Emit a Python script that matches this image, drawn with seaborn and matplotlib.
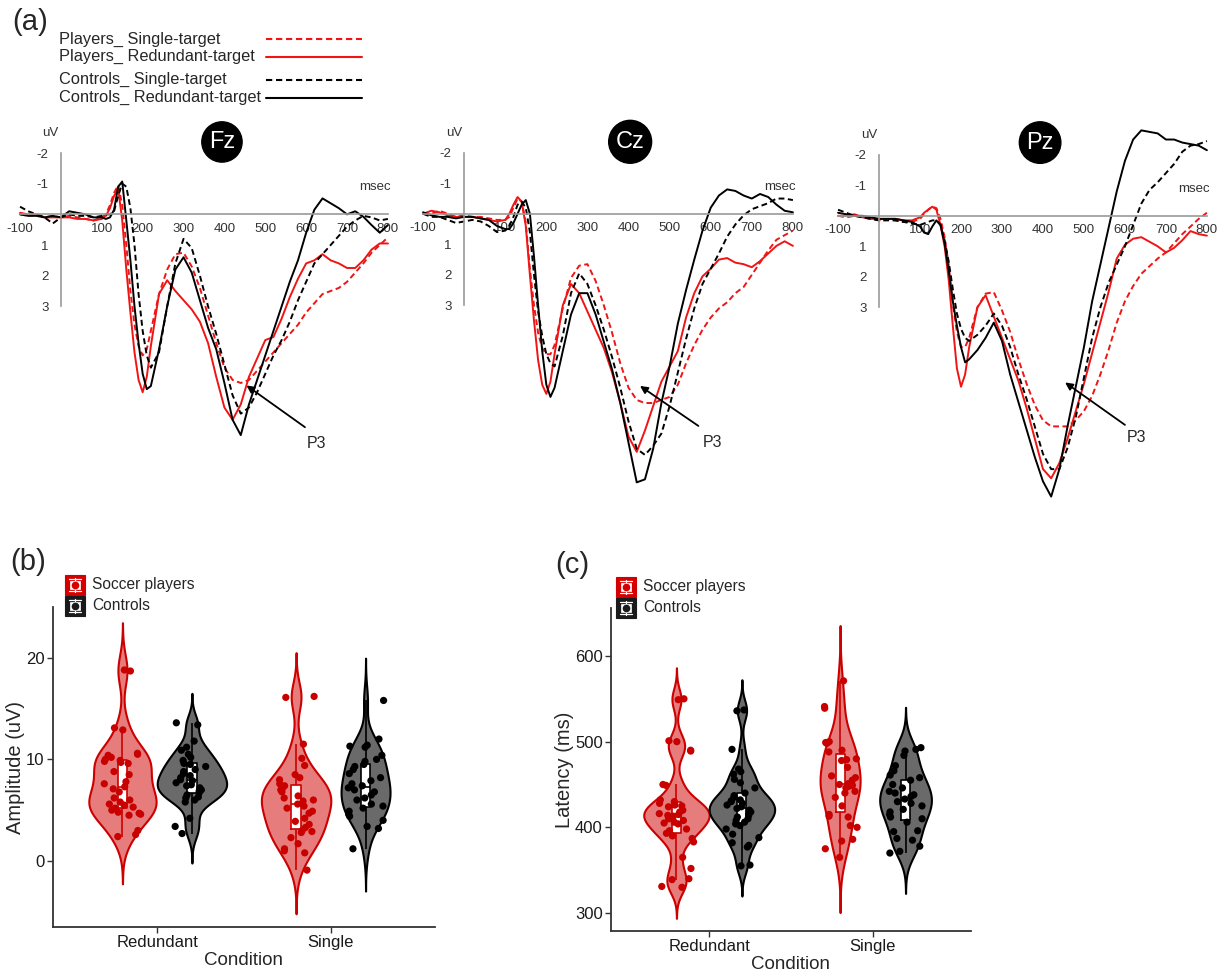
import numpy as np
import pandas as pd
import seaborn as sns
import matplotlib.pyplot as plt
from matplotlib.lines import Line2D
from matplotlib.patches import Rectangle

sns.set_style("white")
plt.rcParams['font.family'] = ['Liberation Sans', 'DejaVu Sans']

# ---------------- ERP waveforms (uV, negative up) ----------------
time_ms = [-100, -80, -60, -40, -20, 0, 20, 40, 60, 80, 100,
           110, 120, 130, 140, 150, 160, 170, 180, 190, 200, 210, 220,
           240, 260, 280, 300, 320, 340, 360, 380, 400, 420, 440, 460, 480, 500,
           520, 540, 560, 580, 600, 620, 640, 660, 680, 700, 720, 740, 760, 780, 800]

fz_players_single = [0.0, 0.05, 0.0, 0.1, 0.05, 0.1, 0.05, 0.1, 0.15, 0.2, 0.1,
                     0.0, -0.3, -0.7, -0.95, -0.3, 1.0, 2.5, 3.6, 4.3, 4.6, 4.4, 3.8,
                     2.6, 1.8, 1.3, 1.25, 1.7, 2.4, 3.3, 4.2, 5.0, 5.4, 5.5, 5.4, 5.1, 4.8,
                     4.5, 4.2, 3.9, 3.6, 3.2, 2.9, 2.6, 2.5, 2.4, 2.2, 1.9, 1.6, 1.25, 1.0, 0.75]
fz_players_redundant = [-0.05, 0.0, 0.0, 0.1, 0.1, 0.1, 0.1, 0.15, 0.15, 0.2, 0.15,
                        0.05, -0.2, -0.6, -0.85, 0.2, 1.8, 3.2, 4.5, 5.4, 5.8, 5.3, 4.3,
                        2.6, 2.15, 2.5, 2.8, 3.1, 3.5, 4.2, 5.3, 6.3, 6.7, 6.2, 5.3, 4.7, 4.1,
                        4.0, 3.4, 2.7, 2.1, 1.6, 1.5, 1.3, 1.5, 1.6, 1.75, 1.75, 1.5, 1.15, 0.95, 0.95]
fz_controls_single = [-0.25, -0.1, 0.0, 0.1, 0.3, 0.1, 0.0, 0.05, 0.05, 0.1, 0.05,
                      0.0, 0.0, -0.1, -0.6, -1.0, -0.9, -0.2, 1.0, 2.6, 3.8, 4.6, 5.0,
                      4.5, 3.0, 1.6, 0.8, 1.1, 2.0, 3.0, 3.9, 4.9, 5.9, 6.5, 6.3, 5.8, 5.2,
                      4.6, 4.1, 3.5, 2.8, 2.2, 1.6, 1.3, 1.0, 0.7, 0.4, 0.2, 0.05, 0.1, 0.2, 0.15]
fz_controls_redundant = [0.0, 0.05, 0.05, 0.1, 0.05, 0.1, -0.1, -0.05, 0.0, 0.1, 0.1,
                         0.15, 0.1, -0.15, -0.9, -1.07, 0.2, 1.5, 3.0, 4.2, 5.2, 5.7, 5.6,
                         4.4, 3.0, 1.8, 1.4, 1.9, 2.8, 3.7, 4.4, 5.5, 6.7, 7.2, 6.2, 5.4, 4.6,
                         3.8, 3.0, 2.2, 1.5, 0.6, -0.15, -0.52, -0.36, -0.2, 0.0, -0.1, 0.08, 0.35, 0.6, 0.35]

cz_players_single = [0.0, 0.0, -0.1, 0.0, 0.1, 0.05, 0.1, 0.1, 0.15, 0.2, 0.2,
                     0.1, -0.2, -0.5, -0.4, 0.3, 1.8, 3.0, 3.9, 4.4, 4.6, 4.6, 4.3,
                     3.1, 2.1, 1.7, 1.65, 2.2, 3.0, 3.9, 4.9, 5.7, 6.1, 6.2, 6.2, 6.1, 6.0,
                     5.6, 4.9, 4.3, 3.8, 3.4, 3.1, 2.9, 2.6, 2.4, 2.0, 1.6, 1.2, 0.85, 0.7, 0.55]
cz_players_redundant = [0.0, -0.1, -0.05, 0.05, 0.1, 0.1, 0.1, 0.15, 0.2, 0.25, 0.2,
                        0.0, -0.3, -0.55, -0.4, 0.4, 2.0, 3.5, 4.8, 5.6, 5.9, 5.5, 4.6,
                        3.0, 2.3, 2.6, 3.2, 3.8, 4.4, 5.2, 6.2, 7.3, 7.8, 7.1, 6.3, 5.5, 5.0,
                        4.5, 3.4, 2.6, 2.05, 1.8, 1.5, 1.45, 1.6, 1.65, 1.75, 1.55, 1.3, 1.05, 0.9, 1.05]
cz_controls_single = [0.0, 0.1, 0.1, 0.2, 0.3, 0.25, 0.2, 0.25, 0.4, 0.6, 0.55,
                      0.4, 0.1, -0.3, -0.4, -0.2, 0.6, 2.0, 3.2, 4.0, 4.6, 4.9, 5.0,
                      4.0, 2.6, 1.95, 2.3, 3.0, 3.8, 4.7, 5.7, 6.8, 7.7, 7.9, 7.6, 7.2, 6.3,
                      5.2, 4.1, 3.1, 2.3, 1.8, 1.3, 0.75, 0.35, 0.05, -0.15, -0.25, -0.35, -0.5, -0.5, -0.45]
cz_controls_redundant = [-0.05, 0.05, 0.1, 0.1, 0.15, 0.1, 0.1, 0.15, 0.2, 0.4, 0.5,
                         0.5, 0.3, 0.0, -0.3, -0.45, 0.0, 1.4, 3.0, 4.5, 5.6, 6.0, 5.7,
                         4.5, 3.3, 2.6, 2.6, 3.3, 4.2, 5.1, 6.2, 7.5, 8.8, 8.7, 7.7, 6.2, 5.0,
                         3.6, 2.5, 1.5, 0.55, -0.2, -0.6, -0.8, -0.75, -0.6, -0.5, -0.65, -0.55, -0.3, -0.1, -0.05]

pz_players_single = [0.0, 0.05, 0.0, 0.05, 0.1, 0.15, 0.1, 0.15, 0.2, 0.2, 0.1,
                     -0.05, -0.2, -0.3, -0.25, 0.1, 0.7, 1.6, 2.9, 3.8, 4.3, 4.3, 4.0,
                     3.0, 2.55, 2.5, 3.1, 3.8, 4.7, 5.5, 6.2, 6.7, 6.9, 6.9, 6.9, 6.7, 6.4,
                     5.9, 5.2, 4.4, 3.5, 2.8, 2.3, 1.9, 1.65, 1.4, 1.2, 0.9, 0.6, 0.35, 0.1, -0.1]
pz_players_redundant = [0.0, 0.0, -0.05, 0.05, 0.1, 0.1, 0.1, 0.1, 0.15, 0.15, 0.05,
                        -0.1, -0.2, -0.3, -0.2, 0.3, 1.0, 2.1, 3.6, 5.0, 5.6, 5.2, 4.3,
                        3.0, 2.6, 3.3, 4.0, 4.7, 5.4, 6.3, 7.3, 8.3, 8.6, 8.1, 7.3, 6.4, 5.5,
                        4.5, 3.5, 2.5, 1.4, 0.95, 0.75, 0.7, 0.85, 1.0, 1.2, 1.05, 0.8, 0.5, 0.6, 0.65]
pz_controls_single = [-0.2, -0.1, 0.0, 0.05, 0.1, 0.15, 0.15, 0.15, 0.2, 0.25, 0.3,
                      0.25, 0.2, 0.15, 0.15, 0.3, 0.8, 1.5, 2.4, 3.2, 3.7, 4.0, 4.1,
                      3.9, 3.6, 3.2, 3.6, 4.3, 5.2, 6.0, 6.9, 7.8, 8.3, 8.3, 7.6, 6.6, 5.3,
                      4.0, 3.0, 2.2, 1.6, 1.0, 0.3, -0.4, -0.85, -1.1, -1.4, -1.7, -2.1, -2.3, -2.35, -2.45]
pz_controls_redundant = [-0.1, -0.05, 0.0, 0.0, 0.05, 0.1, 0.1, 0.1, 0.15, 0.2, 0.35,
                         0.55, 0.6, 0.35, 0.15, 0.3, 0.9, 1.8, 2.8, 3.6, 4.3, 4.8, 4.7,
                         4.4, 4.0, 3.5, 4.1, 5.2, 6.1, 7.0, 7.9, 8.7, 9.2, 8.3, 6.9, 5.6, 4.3,
                         2.8, 1.6, 0.4, -0.8, -1.8, -2.5, -2.8, -2.75, -2.7, -2.5, -2.5, -2.4, -2.35, -2.3, -2.15]

erp_names = ['Players_ Single-target', 'Players_ Redundant-target',
             'Controls_ Single-target', 'Controls_ Redundant-target']
erp_colors = {'Players_ Single-target': '#F01414', 'Players_ Redundant-target': '#F01414',
              'Controls_ Single-target': 'black', 'Controls_ Redundant-target': 'black'}
erp_dashes = {'Players_ Single-target': (3, 1.8), 'Players_ Redundant-target': '',
              'Controls_ Single-target': (3, 1.8), 'Controls_ Redundant-target': ''}

electrodes = {
    'Fz': [fz_players_single, fz_players_redundant, fz_controls_single, fz_controls_redundant],
    'Cz': [cz_players_single, cz_players_redundant, cz_controls_single, cz_controls_redundant],
    'Pz': [pz_players_single, pz_players_redundant, pz_controls_single, pz_controls_redundant],
}

# ---------------- P3 amplitude / latency per subject ----------------
amp_players_redundant = [18.8, 18.7, 13.1, 12.9, 10.6, 10.5, 10.4, 10.2, 10.0, 9.9, 9.8, 9.7,
                         9.6, 8.8, 8.5, 7.8, 7.6, 7.3, 7.1, 6.8, 6.2, 6.0, 5.8, 5.6, 5.5, 5.3,
                         5.2, 5.0, 4.8, 4.7, 4.6, 4.5, 3.0, 2.6, 2.4]
amp_controls_redundant = [13.6, 13.4, 11.8, 11.2, 10.9, 10.5, 10.2, 9.9, 9.6, 9.5, 9.3, 9.0,
                          8.8, 8.6, 8.4, 8.2, 8.0, 7.9, 7.7, 7.5, 7.4, 7.2, 7.0, 6.9, 6.7,
                          6.5, 6.3, 6.2, 6.0, 5.8, 4.2, 3.4, 2.7]
amp_players_single = [16.2, 16.1, 11.5, 10.1, 9.4, 8.5, 8.2, 8.0, 7.6, 7.4, 7.2, 7.0, 6.8,
                      6.4, 6.2, 6.0, 5.9, 5.6, 5.4, 5.2, 4.9, 4.7, 4.2, 3.9, 3.6, 3.3, 3.0,
                      2.9, 2.8, 2.3, 1.7, 1.2, 1.0, 0.8, -0.9]
amp_controls_single = [15.8, 12.0, 11.4, 11.3, 11.2, 10.4, 10.0, 9.8, 9.5, 9.3, 9.0, 8.6,
                       8.2, 7.9, 7.6, 7.4, 7.2, 7.0, 6.8, 6.5, 6.2, 6.0, 5.6, 5.4, 5.2, 4.9,
                       4.6, 4.4, 4.0, 3.4, 3.2, 1.2]

lat_players_redundant = [549, 550, 501, 500, 490, 489, 450, 449, 432, 430, 428, 426, 425, 424,
                         420, 418, 416, 415, 414, 413, 410, 408, 406, 405, 404, 398, 396, 393,
                         390, 387, 383, 365, 352, 340, 339, 331, 330]
lat_controls_redundant = [537, 536, 491, 468, 465, 462, 456, 452, 446, 440, 437, 435, 432, 431,
                          430, 428, 426, 424, 422, 420, 418, 416, 414, 412, 410, 408, 406, 404,
                          402, 398, 392, 388, 382, 379, 377, 356, 355]
lat_players_single = [571, 541, 539, 500, 499, 499, 498, 490, 488, 480, 479, 478, 470, 460,
                      458, 455, 451, 450, 449, 448, 446, 442, 440, 435, 425, 415, 413, 412,
                      402, 400, 386, 384, 375, 365]
lat_controls_single = [493, 491, 489, 484, 472, 466, 461, 458, 455, 450, 446, 442, 440, 438,
                       436, 433, 430, 428, 425, 421, 418, 415, 412, 410, 406, 396, 395, 387,
                       385, 378, 372, 370]

conditions = ['Redundant', 'Single']
groups = ['Soccer players', 'Controls']

RED_LINE = '#CC0000'
RED_FILL = '#E67C7C'
GRAY_FILL = '#6A6A6A'

W, H = 1222, 975
fig = plt.figure(figsize=(W / 100, H / 100), dpi=100)


def px_axes(left, top, right, bottom):
    return fig.add_axes([left / W, 1 - bottom / H, (right - left) / W, (bottom - top) / H])


# ---------------- panel (a) ----------------
erp_boxes = {'Fz': (18, 107, 392, 521), 'Cz': (421, 107, 797, 519), 'Pz': (836, 109, 1211, 521)}
badge_pos = {'Fz': (394, -2.36), 'Cz': (404, -2.36), 'Pz': (393, -2.4)}
p3_arrow = {'Fz': ((454, 5.58), (597, 6.94), (601, 7.47)),
            'Cz': ((428, 5.64), (570, 6.95), (581, 7.49)),
            'Pz': ((454, 5.46), (600, 6.85), (604, 7.26))}

for name, series in electrodes.items():
    ax = px_axes(*erp_boxes[name])
    ax.patch.set_alpha(0)
    rows = []
    for label, vals in zip(erp_names, series):
        rows.append(pd.DataFrame({'t': time_ms, 'v': vals, 'series': label}))
    df = pd.concat(rows, ignore_index=True)
    sns.lineplot(data=df, x='t', y='v', hue='series', style='series', hue_order=erp_names,
                 style_order=erp_names, palette=erp_colors, dashes=erp_dashes,
                 estimator=None, lw=1.4, legend=False, ax=ax)
    ax.set_xlim(-105, 810)
    ax.set_ylim(10, -3.5)
    ax.set_xlabel('')
    ax.set_ylabel('')
    for s in ['top', 'right']:
        ax.spines[s].set_visible(False)
    ax.spines['left'].set_position(('data', 0))
    ax.spines['left'].set_bounds(-2, 3)
    ax.spines['bottom'].set_position(('data', 0))
    ax.spines['bottom'].set_bounds(-100, 800)
    for s in ['left', 'bottom']:
        ax.spines[s].set_color('#9A9A9A')
        ax.spines[s].set_linewidth(1.2)
    ax.set_xticks([-100, 100, 200, 300, 400, 500, 600, 700, 800])
    ax.set_xticklabels(['-100', '100', '200', '300', '400', '500', '600', '700', '800'])
    ax.set_yticks([-2, -1, 1, 2, 3])
    ax.set_yticklabels(['-2', '-1', '1', '2', '3'])
    ax.tick_params(axis='x', direction='in', length=3, width=1, color='#9A9A9A',
                   labelsize=9.5, labelcolor='#333333', pad=6)
    ax.tick_params(axis='y', direction='out', length=5, width=1, color='#9A9A9A',
                   labelsize=9.5, labelcolor='#333333', pad=4)
    ax.text(-25, -2.66, 'uV', fontsize=9.5, color='#333333', ha='center', va='center')
    ax.text(768, -0.88, 'msec', fontsize=9.5, color='#333333', ha='center', va='center')
    bx, by = badge_pos[name]
    ax.text(bx, by, name, fontsize=17, color='white', ha='center', va='center',
            bbox=dict(boxstyle='circle,pad=0.3', fc='black', ec='black'))
    tip, tail, txt = p3_arrow[name]
    ax.annotate('', xy=tip, xytext=tail,
                arrowprops=dict(arrowstyle='-|>', color='black', lw=1.3, mutation_scale=11,
                                shrinkA=0, shrinkB=0))
    ax.text(txt[0], txt[1], 'P3', fontsize=11.5, ha='left', va='center')

fig.text(12 / W, 1 - 22 / H, '(a)', fontsize=21, ha='left', va='center')
legend_rows = [39, 56.5, 79.5, 97.5]
for label, y in zip(erp_names, legend_rows):
    fig.text(59 / W, 1 - y / H, label, fontsize=11.8, ha='left', va='center')
    ls = '-' if 'Redundant' in label else (0, (3, 1.8))
    fig.add_artist(Line2D([266 / W, 362 / W], [1 - y / H, 1 - y / H],
                          color=erp_colors[label], lw=1.5, ls=ls))


# ---------------- panels (b) and (c) ----------------
def nrd0(kde):
    # R's default bandwidth rule, returned as a factor of the sample sd
    x = np.asarray(kde.dataset).ravel()
    sd = x.std(ddof=1)
    q75, q25 = np.percentile(x, [75, 25])
    lo = min(sd, (q75 - q25) / 1.34)
    return 0.9 * lo * len(x) ** -0.2 / sd


def draw_key(x, y, color, label):
    # ggplot-like key: filled square with a tiny white box and a dot
    w, h = 20, 20
    tr = fig.transFigure
    fig.add_artist(Rectangle((x / W, 1 - (y + h) / H), w / W, h / H, fc=color, ec=color,
                             lw=0.8, transform=tr))
    for yy in (y + 4, y + h - 4):
        fig.add_artist(Line2D([(x + 4) / W, (x + w - 4) / W], [1 - yy / H] * 2,
                              color='white', lw=0.9, transform=tr))
    fig.add_artist(Line2D([(x + w / 2) / W] * 2, [1 - (y + 3) / H, 1 - (y + h - 3) / H],
                          color='white', lw=0.9, transform=tr))
    fig.add_artist(Rectangle(((x + 5) / W, 1 - (y + 14) / H), (w - 10) / W, 8 / H,
                             fc='white', ec='white', lw=0.5, transform=tr))
    fig.add_artist(Line2D([(x + w / 2) / W], [1 - (y + h / 2) / H], marker='o', ms=4.5,
                          color=color, ls='', transform=tr))
    fig.text((x + w + 7) / W, 1 - (y + h / 2) / H, label, fontsize=11.2,
             ha='left', va='center')


def violin_panel(ax, values, ylabel, ylim, yticks):
    rows = []
    for cond, grp, vals in values:
        rows.append(pd.DataFrame({'Condition': cond, 'Group': grp, 'val': vals}))
    df = pd.concat(rows, ignore_index=True)
    common = dict(data=df, x='Condition', y='val', hue='Group', order=conditions,
                  hue_order=groups, ax=ax)
    sns.violinplot(**common, palette={'Soccer players': RED_FILL, 'Controls': GRAY_FILL},
                   inner=None, width=0.8, bw_method=nrd0, cut=3, density_norm='area',
                   saturation=1, linewidth=1.5, legend=False)
    red_rgba = np.array(plt.matplotlib.colors.to_rgba(RED_FILL))
    for coll in ax.collections:
        fc = np.array(coll.get_facecolor()[0])
        coll.set_edgecolor(RED_LINE if np.allclose(fc, red_rgba, atol=0.02) else 'black')
        coll.set_linewidth(1.5)
    sns.boxplot(**common, palette={'Soccer players': 'white', 'Controls': 'white'},
                width=0.8, gap=0.86, linewidth=0, showfliers=False, showcaps=False,
                saturation=1, legend=False)
    sns.boxplot(**common, palette={'Soccer players': RED_LINE, 'Controls': 'black'},
                fill=False, width=0.8, gap=0.86, linewidth=1.2, showfliers=False,
                showcaps=False, legend=False)
    np.random.seed(3)
    sns.stripplot(**common, palette={'Soccer players': '#C80000', 'Controls': 'black'},
                  dodge=True, jitter=0.22, size=5.2, linewidth=0, legend=False, zorder=3)
    ax.set_xlim(-0.6, 1.6)
    ax.set_ylim(*ylim)
    ax.set_yticks(yticks)
    ax.set_xlabel('Condition', fontsize=13.5, labelpad=1)
    ax.set_ylabel(ylabel, fontsize=14.5, labelpad=1)
    for s in ['top', 'right']:
        ax.spines[s].set_visible(False)
    for s in ['left', 'bottom']:
        ax.spines[s].set_color('#333333')
        ax.spines[s].set_linewidth(1.3)
    ax.tick_params(axis='both', direction='out', length=4, width=1, color='#333333',
                   labelsize=12, labelcolor='#1A1A1A', left=True, bottom=True, pad=2)


ax_b = px_axes(53, 607, 435, 927)
violin_panel(ax_b, [('Redundant', 'Soccer players', amp_players_redundant),
                    ('Redundant', 'Controls', amp_controls_redundant),
                    ('Single', 'Soccer players', amp_players_single),
                    ('Single', 'Controls', amp_controls_single)],
             'Amplitude (uV)', (-6.5, 25), [0, 10, 20])
draw_key(65, 575, '#D40000', 'Soccer players')
draw_key(65, 596, '#1A1A1A', 'Controls')
fig.text(10 / W, 1 - 562 / H, '(b)', fontsize=21, ha='left', va='center')

ax_c = px_axes(611, 608, 971, 931)
violin_panel(ax_c, [('Redundant', 'Soccer players', lat_players_redundant),
                    ('Redundant', 'Controls', lat_controls_redundant),
                    ('Single', 'Soccer players', lat_players_single),
                    ('Single', 'Controls', lat_controls_single)],
             'Latency (ms)', (279, 656), [300, 400, 500, 600])
draw_key(616, 577, '#D40000', 'Soccer players')
draw_key(616, 598, '#1A1A1A', 'Controls')
fig.text(555 / W, 1 - 565 / H, '(c)', fontsize=21, ha='left', va='center')

fig.savefig('out.png', dpi=100)
